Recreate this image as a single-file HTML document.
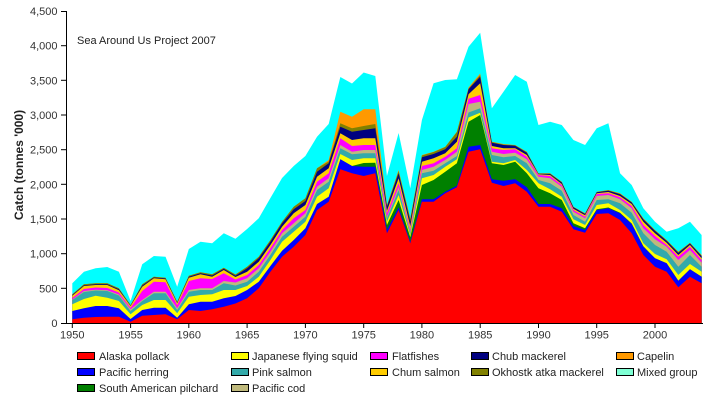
<!DOCTYPE html>
<html><head><meta charset="utf-8"><style>
html,body{margin:0;padding:0;background:#fff;}
svg{display:block;}
text{font-family:"Liberation Sans",Arial,sans-serif;}
</style></head><body>
<svg width="713" height="409" viewBox="0 0 713 409" xmlns="http://www.w3.org/2000/svg">
<rect x="0" y="0" width="713" height="409" fill="#fff"/>
<g transform="translate(72.3,0) scale(11.654,1)">
<polygon fill="#00FFFF" points="0,323 0,283.3 1,271.7 2,268.3 3,267 4,271.7 5,301 6,264.3 7,256 8,256.7 9,286.7 10,249 11,241.7 12,243.3 13,233.3 14,238.7 15,229 16,218.3 17,198 18,178 19,166 20,156 21,136.7 22,124 23,77 24,83.5 25,72.5 26,76 27,176 28,133 29,188.3 30,120 31,83.3 32,80 33,79.3 34,46.7 35,32.7 36,108.3 37,91.7 38,75 39,81.7 40,125 41,121.7 42,125 43,140 44,145 45,128.3 46,123.3 47,173.3 48,185 49,208.3 50,221.7 51,231.7 52,228.3 53,221.7 54,235 54,323"/>
<polygon fill="#FF9900" points="0,323 0,294.3 1,284.3 2,283.3 3,283.3 4,288.3 5,305 6,284.3 7,276.7 8,277.7 9,301.7 10,275.7 11,272.3 12,274.3 13,267.7 14,274.5 15,266.7 16,256.7 17,240 18,221.7 19,206.7 20,198.3 21,168.3 22,160 23,111.7 24,116.7 25,109.3 26,109.3 27,205 28,170 29,218.3 30,155 31,151.7 32,146.7 33,131.7 34,87.5 35,73.5 36,141.7 37,144 38,145 39,151.7 40,173.3 41,173.3 42,181.7 43,206.7 44,213.3 45,191.7 46,190 47,193.3 48,201.7 49,218.3 50,230 51,240 52,251.7 53,242.7 54,255 54,323"/>
<polygon fill="#808000" points="0,323 0,294.3 1,284.3 2,283.3 3,283.3 4,288.3 5,305 6,284.3 7,276.7 8,277.7 9,301.7 10,275.7 11,272.3 12,274.3 13,267.7 14,274.5 15,266.7 16,256.7 17,240 18,221.7 19,206.7 20,198.3 21,168.3 22,161.5 23,123.3 24,128.3 25,126 26,124 27,205.5 28,171 29,219 30,155.5 31,152 32,147 33,132 34,88.5 35,75 36,142 37,144.5 38,145.3 39,152 40,173.5 41,173.5 42,182 43,207 44,213.5 45,192 46,190.3 47,193.7 48,202 49,218.7 50,230.3 51,240.3 52,252 53,243 54,255.5 54,323"/>
<polygon fill="#000080" points="0,323 0,295 1,285.2 2,284.2 3,284.2 4,289.3 5,305.5 6,285.5 7,277.5 8,278.5 9,302.5 10,276.7 11,273.3 12,275.5 13,268.8 14,275.8 15,268.3 16,258.3 17,241.7 18,223.3 19,209.3 20,201 21,171.7 22,163.3 23,126.7 24,131.7 25,130 26,128.3 27,206.7 28,173.3 29,221.7 30,157.3 31,154 32,149.3 33,136.7 34,89.3 35,76.7 36,142.7 37,145 38,145.7 39,152.7 40,173.8 41,174 42,182.5 43,207.3 44,214 45,192.3 46,190.7 47,194.3 48,202.5 49,219.5 50,231 51,241 52,253 53,243.5 54,256.3 54,323"/>
<polygon fill="#FFCC00" points="0,323 0,295.7 1,286 2,285 3,285 4,290.3 5,306 6,286.7 7,278.3 8,279.3 9,303.3 10,277.7 11,274.3 12,276.7 13,270 14,277 15,271.7 16,261.7 17,245 18,226.7 19,213.3 20,205 21,176.7 22,168.3 23,133.3 24,140 25,138.3 26,138.3 27,210.7 28,178.3 29,226 30,161.7 31,158.3 32,153.3 33,141.7 34,94.2 35,83.3 36,146 37,148.3 38,148.3 39,155 40,174.3 41,175 42,184 43,208.7 44,215.3 45,193.3 46,192 47,196 48,204 49,221.7 50,233.3 51,242.7 52,255 53,245 54,258.3 54,323"/>
<polygon fill="#FF00FF" points="0,323 0,298 1,289 2,287.5 3,288 4,292.5 5,307.7 6,291 7,281.7 8,282.3 9,305 10,281 11,278.3 12,279 13,273.3 14,279.5 15,275 16,265 17,248.3 18,230 19,218.3 20,210 21,181.7 22,173.3 23,138.3 24,146 25,145 26,145 27,213.3 28,183.3 29,229.3 30,166 31,163.3 32,156.7 33,148.3 34,98.8 35,95 36,148.3 37,150 38,149.3 39,156.7 40,175 41,176 42,185 43,210 44,216.7 45,194 46,193.3 47,197.3 48,206 49,225 50,236 51,245 52,256.7 53,246.7 54,260 54,323"/>
<polygon fill="#BFB97C" points="0,323 0,299.5 1,291 2,289.8 3,290.3 4,294.5 5,309.3 6,300 7,291.7 8,291.7 9,308.3 10,290 11,288.3 12,288.3 13,281 14,282.5 15,278.3 16,268.3 17,251.7 18,233.3 19,223.3 20,213.3 21,186.7 22,178.3 23,145 24,151.7 25,150 26,150 27,216.7 28,186.7 29,231 30,170 31,166.7 32,160 33,151.7 34,104 35,101.7 36,151.7 37,154 38,152.7 39,159.3 40,176.7 41,178.3 42,186.7 43,211.7 44,218.3 45,196 46,195 47,199.3 48,208.3 49,228.3 50,239.3 51,246.7 52,260 53,250 54,262.7 54,323"/>
<polygon fill="#33AAAA" points="0,323 0,300 1,292 2,290.5 3,291 4,295.5 5,311 6,301 7,293.3 8,293.3 9,310 10,291.7 11,290 12,290 13,283.3 14,285.5 15,281.7 16,271.7 17,255 18,236.7 19,226.7 20,216.7 21,190 22,181.7 23,148.3 24,154.3 25,153.3 26,153.3 27,218.3 28,190 29,232.7 30,173.3 31,170.7 32,163.3 33,156 34,112.5 35,108.3 36,155 37,157.3 38,156 39,163.3 40,180 41,183.3 42,190.7 43,215 44,221.7 45,200 46,199.3 47,203.3 48,212.7 49,233.3 50,245 51,251.7 52,266.7 53,255 54,266.7 54,323"/>
<polygon fill="#FFFF00" points="0,323 0,304.3 1,299 2,295.7 3,297.7 4,301 5,314.3 6,305 7,300 8,300 9,313.3 10,296.7 11,295 12,294.3 13,290 14,290 15,286 16,276.7 17,260 18,241.7 19,231.7 20,221.7 21,196.7 22,188.3 23,154 24,160 25,158.3 26,158.3 27,221.7 28,195 29,235 30,178.3 31,175 32,166.7 33,159.3 34,117.5 35,112.7 36,161.7 37,163.3 38,160 39,170 40,183.3 41,189.3 42,196.7 43,219.3 44,225 45,205 46,203.3 47,210 48,220 49,243.3 50,254 51,259.3 52,275 53,264 54,271.7 54,323"/>
<polygon fill="#008000" points="23,323 23,159.3 24,166 25,163 26,162.7 27,225 28,200 29,237.3 30,185 31,180 32,171.7 33,163.3 34,121.7 35,115 36,163.3 37,165 38,161.7 39,173.3 40,188.3 41,193.3 42,200 43,223.3 44,228.3 45,209.3 46,207.5 47,212.7 48,223.5 49,246.3 50,258.3 51,263.3 52,280.7 53,269.3 54,276.7 54,323"/>
<polygon fill="#0000FF" points="0,323 0,311 1,308.3 2,306 3,306 4,308.3 5,319 6,310 7,307.7 8,307.7 9,317.7 10,304.3 11,301.7 12,301.7 13,298.3 14,296 15,290 16,281.7 17,266 18,250.7 19,240 20,228.3 21,204 22,196.7 23,159.3 24,166 25,166.7 26,166.7 27,230 28,207.3 29,241.7 30,199.3 31,199.3 32,191.7 33,185.7 34,146.7 35,145 36,179.3 37,180.7 38,179.3 39,187.3 40,204 41,204 42,208.3 43,226 44,230 45,210 46,208.3 47,213.3 48,224 49,246.7 50,258.3 51,263.3 52,280.7 53,269.3 54,276.7 54,323"/>
<polygon fill="#FF0000" points="0,323 0,319.3 1,317.7 2,317 3,316.7 4,316.7 5,321.7 6,315.7 7,315 8,314.3 9,319.3 10,310 11,311 12,309.3 13,306.7 14,303.5 15,298.3 16,288.3 17,271.7 18,256.7 19,246.7 20,235 21,210 22,201.7 23,169.3 24,173.3 25,176 26,173.3 27,233.3 28,210 29,243.3 30,201.7 31,201.7 32,193.3 33,187.3 34,151.7 35,149.3 36,182.7 37,186 38,183.3 39,191.7 40,206.7 41,206.7 42,211.7 43,229.3 44,232.7 45,214 46,213.3 47,220 48,233.3 49,255 50,266.7 51,271.7 52,287.3 53,276.7 54,283.3 54,323"/>
</g>
<!-- axes -->
<g stroke="#000" stroke-width="1" fill="none">
<line x1="66.5" y1="11" x2="66.5" y2="323.5"/>
<line x1="66" y1="323.5" x2="703" y2="323.5"/>
<line x1="61" y1="323.5" x2="66" y2="323.5"/>
<line x1="61" y1="288.3" x2="66" y2="288.3"/>
<line x1="61" y1="253.7" x2="66" y2="253.7"/>
<line x1="61" y1="219" x2="66" y2="219"/>
<line x1="61" y1="184.3" x2="66" y2="184.3"/>
<line x1="61" y1="149.7" x2="66" y2="149.7"/>
<line x1="61" y1="115" x2="66" y2="115"/>
<line x1="61" y1="80.3" x2="66" y2="80.3"/>
<line x1="61" y1="45.7" x2="66" y2="45.7"/>
<line x1="61" y1="11.5" x2="66" y2="11.5"/>
<line x1="72.3" y1="323" x2="72.3" y2="328"/>
<line x1="130.6" y1="323" x2="130.6" y2="328"/>
<line x1="188.8" y1="323" x2="188.8" y2="328"/>
<line x1="247.1" y1="323" x2="247.1" y2="328"/>
<line x1="305.4" y1="323" x2="305.4" y2="328"/>
<line x1="363.7" y1="323" x2="363.7" y2="328"/>
<line x1="421.9" y1="323" x2="421.9" y2="328"/>
<line x1="480.2" y1="323" x2="480.2" y2="328"/>
<line x1="538.5" y1="323" x2="538.5" y2="328"/>
<line x1="596.7" y1="323" x2="596.7" y2="328"/>
<line x1="655" y1="323" x2="655" y2="328"/>
</g>
<g font-size="11" fill="#333" text-anchor="end">
<text x="57.5" y="327">0</text>
<text x="57.5" y="292.3">500</text>
<text x="57.5" y="257.7">1,000</text>
<text x="57.5" y="223">1,500</text>
<text x="57.5" y="188.3">2,000</text>
<text x="57.5" y="153.7">2,500</text>
<text x="57.5" y="119">3,000</text>
<text x="57.5" y="84.3">3,500</text>
<text x="57.5" y="49.7">4,000</text>
<text x="57.5" y="15">4,500</text>
</g>
<g font-size="11" fill="#333" text-anchor="middle">
<text x="72.3" y="338.5">1950</text>
<text x="130.6" y="338.5">1955</text>
<text x="188.8" y="338.5">1960</text>
<text x="247.1" y="338.5">1965</text>
<text x="305.4" y="338.5">1970</text>
<text x="363.7" y="338.5">1975</text>
<text x="421.9" y="338.5">1980</text>
<text x="480.2" y="338.5">1985</text>
<text x="538.5" y="338.5">1990</text>
<text x="596.7" y="338.5">1995</text>
<text x="655" y="338.5">2000</text>
</g>
<text x="77" y="44" font-size="11" fill="#222">Sea Around Us Project 2007</text>
<text transform="translate(23,165) rotate(-90)" text-anchor="middle" font-size="12" font-weight="bold" fill="#222">Catch (tonnes '000)</text>
<!-- legend -->
<g stroke="#000" stroke-width="1">
<rect x="77.5" y="352.5" width="17" height="7" fill="#FF0000"/>
<rect x="77.5" y="368.5" width="17" height="7" fill="#0000FF"/>
<rect x="77.5" y="384.5" width="17" height="7" fill="#008000"/>
<rect x="231.5" y="352.5" width="17" height="7" fill="#FFFF00"/>
<rect x="231.5" y="368.5" width="17" height="7" fill="#33AAAA"/>
<rect x="231.5" y="384.5" width="17" height="7" fill="#BFB97C"/>
<rect x="370.5" y="352.5" width="17" height="7" fill="#FF00FF"/>
<rect x="370.5" y="368.5" width="17" height="7" fill="#FFCC00"/>
<rect x="471.5" y="352.5" width="17" height="7" fill="#000080"/>
<rect x="471.5" y="368.5" width="17" height="7" fill="#808000"/>
<rect x="616.5" y="352.5" width="17" height="7" fill="#FF9900"/>
<rect x="616.5" y="368.5" width="17" height="7" fill="#7FFFD4"/>
</g>
<g font-size="11" fill="#222">
<text x="99" y="360">Alaska pollack</text>
<text x="99" y="376">Pacific herring</text>
<text x="99" y="392">South American pilchard</text>
<text x="252" y="360">Japanese flying squid</text>
<text x="252" y="376">Pink salmon</text>
<text x="252" y="392">Pacific cod</text>
<text x="392" y="360">Flatfishes</text>
<text x="392" y="376">Chum salmon</text>
<text x="492" y="360">Chub mackerel</text>
<text x="492" y="376">Okhostk atka mackerel</text>
<text x="637" y="360">Capelin</text>
<text x="637" y="376">Mixed group</text>
</g>
</svg>
</body></html>
